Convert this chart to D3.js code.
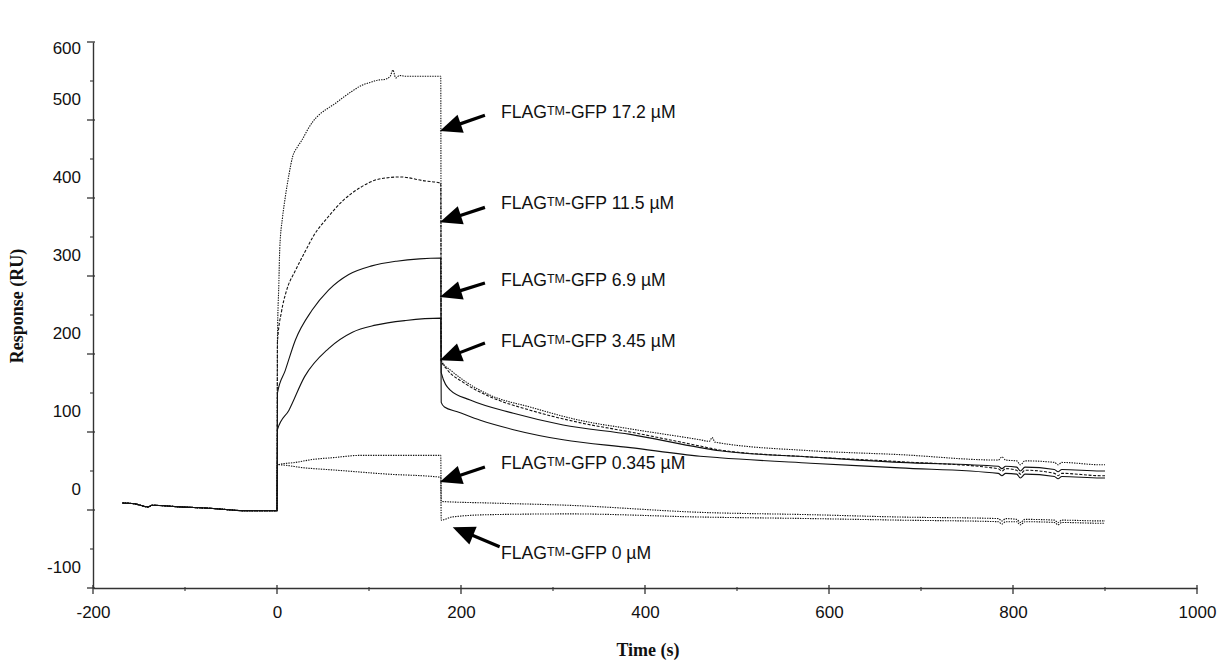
<!DOCTYPE html>
<html>
<head>
<meta charset="utf-8">
<script src="https://cdn.jsdelivr.net/npm/d3@7"></script>
<style>
  body { margin: 0; background: #fff; }
  .tick-label { font-family: "Liberation Sans", Arial, sans-serif; font-size: 17px; fill: #111; }
  .axis-title { font-family: "Liberation Serif", "Times New Roman", serif; font-size: 18px; font-weight: bold; fill: #111; }
  .note { font-family: "Liberation Sans", Arial, sans-serif; font-size: 17.6px; fill: #111; }
</style>
</head>
<body>
<div id="chart"></div>
<script>
// Ticks
const xTicks = [-200, 0, 200, 400, 600, 800, 1000]
const xMinorTicks = [-100, 100, 300, 500, 700, 900]
const yTicks = [-100, 0, 100, 200, 300, 400, 500, 600]
const yMinorTicks = [-50, 50, 150, 250, 350, 450, 550]

// Baseline before injection, shared by all runs [time s, RU]
const baseline = [[-168, 9], [-155, 8], [-140, 4], [-136, 6], [-105, 4], [-70, 2], [-33, -1], [0, -1]]

// Association phase (0 - 178 s)
const assoc172 = [[0.5, 220], [2, 290], [3, 335], [6, 375], [9, 401], [13, 430], [17, 453], [22, 465], [27, 474], [33, 487],
  [39, 498], [46, 507], [54, 514], [63, 521], [72, 529], [83, 538], [93, 545], [101, 548], [109, 551], [117, 552],
  [123, 556], [126, 564], [129, 554], [133, 557], [141, 556], [178, 556]]
const assoc115 = [[0.5, 215], [5, 255], [10, 280], [20, 307], [30, 330], [40, 352], [55, 375], [72, 397], [90, 413],
  [110, 424], [134, 427], [160, 422], [178, 419]]
const assoc69 = [[0.5, 150], [9, 179], [20, 218], [38, 256], [56, 282], [78, 302], [103, 313], [130, 319], [155, 322], [178, 323]]
const assoc345 = [[0.5, 103], [13, 128], [30, 171], [56, 207], [82, 228], [107, 237], [140, 243], [178, 246]]
const assoc0345 = [[0.5, 58], [20, 61], [40, 65], [60, 67], [90, 70], [120, 70], [178, 70]]
const assoc0 = [[0.5, 58], [30, 54], [65, 51], [120, 46], [178, 42]]

// Dissociation phase (178 - 900 s)
const dissoc172 = [[178.5, 192], [190, 178], [202, 167], [232, 147], [275, 132], [329, 115], [384, 104], [460, 90],
  [470, 88], [473, 93], [476, 87], [580, 76], [677, 71], [784, 64], [788, 68], [792, 64], [804, 63], [808, 58],
  [813, 63], [845, 61], [849, 58], [853, 61], [895, 58], [900, 58]]
const dissoc115 = [[178.5, 192], [185, 180], [202, 164], [232, 145], [275, 128], [329, 112], [384, 100], [460, 82],
  [481, 77], [580, 68], [677, 62], [784, 53], [788, 50], [792, 53], [804, 51], [808, 46], [813, 51], [845, 47],
  [849, 44], [853, 47], [895, 44], [900, 44]]
const dissoc69 = [[178.5, 176], [188, 154], [210, 141], [257, 124], [311, 109], [384, 97], [460, 80], [481, 76],
  [580, 68], [677, 61], [784, 56], [788, 53], [792, 56], [804, 55], [808, 50], [813, 55], [845, 52], [849, 49],
  [853, 52], [895, 50], [900, 50]]
const dissoc345 = [[178.5, 138], [182, 132], [196, 126], [221, 115], [257, 103], [311, 90], [384, 80], [460, 69],
  [481, 67], [580, 60], [677, 54], [784, 47], [788, 44], [792, 47], [804, 46], [808, 41], [813, 46], [845, 43],
  [849, 40], [853, 43], [895, 41], [900, 41]]
const dissoc0345 = [[178.5, 11], [230, 9], [318, 6], [460, -3], [580, -6], [677, -9], [784, -11], [788, -14],
  [792, -11], [804, -12], [808, -16], [813, -12], [845, -13], [849, -16], [853, -13], [895, -14], [900, -14]]
const dissoc0 = [[178.5, -13], [190, -9], [230, -6], [318, -5], [460, -9], [580, -11], [677, -13], [784, -15],
  [788, -18], [792, -15], [804, -15], [808, -19], [813, -15], [845, -16], [849, -19], [853, -16], [895, -17], [900, -17]]

const series = [
  { name: '17.2', style: 'dotted', values: baseline.concat(assoc172, dissoc172) },
  { name: '11.5', style: 'dashed', values: baseline.concat(assoc115, dissoc115) },
  { name: '6.9', style: 'solid', values: baseline.concat(assoc69, dissoc69) },
  { name: '3.45', style: 'solid', values: baseline.concat(assoc345, dissoc345) },
  { name: '0.345', style: 'dotted', values: baseline.concat(assoc0345, dissoc0345) },
  { name: '0', style: 'dotted', values: baseline.concat(assoc0, dissoc0) }
]

// Annotations: arrow tip, arrow tail, text anchor (data units)
const noteLabels = ['17.2 µM', '11.5 µM', '6.9 µM', '3.45 µM', '0.345 µM', '0 µM']
const arrowTips = [[177, 486], [177, 369], [177, 273], [177, 192], [177, 36], [191, -22]]
const arrowTails = [[226, 506], [226, 388], [226, 291], [226, 214], [226, 55], [242, -47]]
const notePos = [[243.5, 503], [243.5, 386], [243.5, 287], [243.5, 209], [243.5, 53], [243.5, -63]]

const width = 1221
const height = 670

const svg = d3.select('#chart').append('svg')
  .attr('width', width)
  .attr('height', height)

const x = d3.scaleLinear().domain([-200, 1000]).range([93, 1197])
const y = d3.scaleLinear().domain([-100, 600]).range([588, 42])

const axisColor = '#333'
const plainNum = d => String(d)   // hyphen-minus like the original, not U+2212

// X axis
const gx = svg.append('g').attr('transform', `translate(0, ${y(-100)})`)
gx.call(d3.axisBottom(x).tickValues(xTicks).tickSize(0).tickPadding(18).tickFormat(plainNum))
gx.select('.domain').attr('stroke', axisColor).attr('stroke-width', 1.4)
gx.selectAll('.tick text').attr('class', 'tick-label').attr('fill', null)
gx.selectAll('.major').data(xTicks).enter().append('line')
  .attr('x1', d => x(d)).attr('x2', d => x(d)).attr('y1', -3).attr('y2', 6)
  .attr('stroke', axisColor).attr('stroke-width', 1.3)
gx.selectAll('.minor').data(xMinorTicks).enter().append('line')
  .attr('x1', d => x(d)).attr('x2', d => x(d)).attr('y1', -1).attr('y2', 3)
  .attr('stroke', axisColor).attr('stroke-width', 1.1)

// Y axis
const gy = svg.append('g').attr('transform', `translate(${x(-200)}, 0)`)
gy.call(d3.axisLeft(y).tickValues(yTicks).tickSize(0).tickPadding(12).tickFormat(plainNum))
gy.select('.domain').attr('stroke', axisColor).attr('stroke-width', 1.4)
gy.selectAll('.tick text').attr('class', 'tick-label').attr('fill', null)
  .attr('y', d => d === 600 ? 6 : -21)
gy.selectAll('.major').data(yTicks).enter().append('line')
  .attr('y1', d => y(d)).attr('y2', d => y(d)).attr('x1', -6).attr('x2', 2)
  .attr('stroke', axisColor).attr('stroke-width', 1.3)
gy.selectAll('.minor').data(yMinorTicks).enter().append('line')
  .attr('y1', d => y(d)).attr('y2', d => y(d)).attr('x1', -3).attr('x2', 0)
  .attr('stroke', axisColor).attr('stroke-width', 1.1)

// Axis titles
svg.append('text')
  .attr('class', 'axis-title')
  .attr('x', 648).attr('y', 656)
  .attr('text-anchor', 'middle')
  .text('Time (s)')

svg.append('text')
  .attr('class', 'axis-title')
  .attr('transform', 'translate(23, 306) rotate(-90)')
  .attr('text-anchor', 'middle')
  .text('Response (RU)')

// Sensorgram lines
const line = d3.line().x(d => x(d[0])).y(d => y(d[1])).curve(d3.curveMonotoneX)
const dash = { dotted: '1.4,1.1', dashed: '3,1.6', solid: null }

svg.append('g').selectAll('path').data(series).enter().append('path')
  .attr('d', d => line(d.values))
  .attr('fill', 'none')
  .attr('stroke', '#111')
  .attr('stroke-width', 1.1)
  .attr('stroke-dasharray', d => dash[d.style])

// Arrows + labels
const notes = svg.append('g')
noteLabels.forEach((label, i) => {
  const tx = x(arrowTips[i][0]), ty = y(arrowTips[i][1])
  const sx = x(arrowTails[i][0]), sy = y(arrowTails[i][1])
  const len = Math.hypot(tx - sx, ty - sy)
  const ux = (tx - sx) / len, uy = (ty - sy) / len
  const headLen = 22, headHalf = 9.5
  const bx = tx - ux * headLen, by = ty - uy * headLen

  notes.append('line')
    .attr('x1', sx).attr('y1', sy).attr('x2', bx + ux * 2).attr('y2', by + uy * 2)
    .attr('stroke', '#000').attr('stroke-width', 3.2)

  notes.append('polygon')
    .attr('points', [
      [tx, ty],
      [bx - uy * headHalf, by + ux * headHalf],
      [bx + uy * headHalf, by - ux * headHalf]
    ].map(p => p.join(',')).join(' '))
    .attr('fill', '#000')

  const t = notes.append('text')
    .attr('class', 'note')
    .attr('x', x(notePos[i][0]))
    .attr('y', y(notePos[i][1]))
  t.append('tspan').text('FLAG')
  t.append('tspan').attr('font-size', '12.5px').attr('dy', -3).text('TM')
  t.append('tspan').attr('dy', 3).text('-GFP ' + label)
})
</script>
</body>
</html>
